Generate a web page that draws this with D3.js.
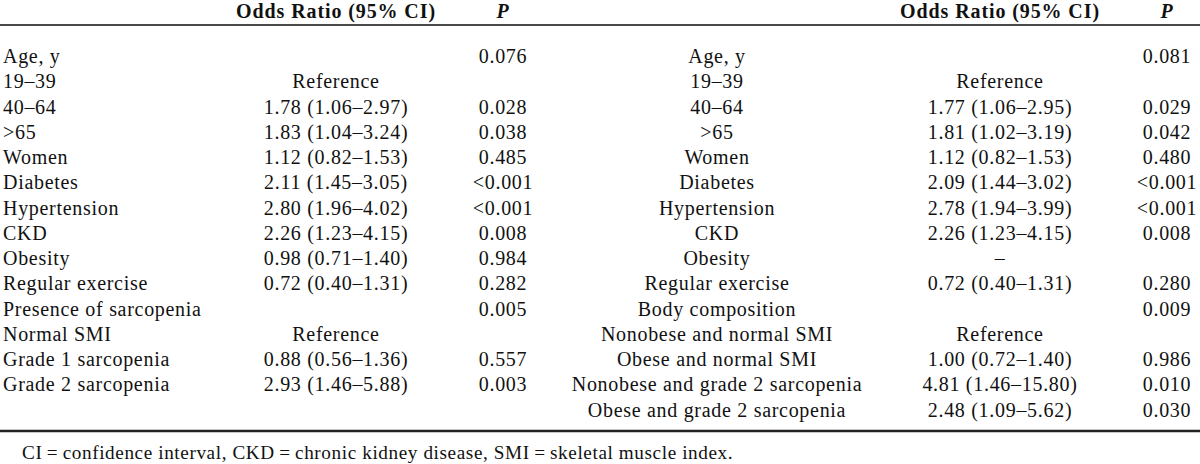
<!DOCTYPE html>
<html><head><meta charset="utf-8">
<script src="https://cdn.jsdelivr.net/npm/d3@7"></script>
<style>
html,body{margin:0;padding:0;background:#fff;}
svg{display:block;}
text{font-family:"Liberation Serif","Tinos","Times New Roman",serif;fill:#111;}
</style></head>
<body>
<svg id="t" width="1200" height="464"></svg>
<script>
const headers = ["", "Odds Ratio (95% CI)", "P"];
const leftLabels = ["Age, y","19\u201339","40\u201364",">65","Women","Diabetes","Hypertension","CKD","Obesity","Regular exercise","Presence of sarcopenia","Normal SMI","Grade 1 sarcopenia","Grade 2 sarcopenia"];
const leftOR = ["","Reference","1.78 (1.06\u20132.97)","1.83 (1.04\u20133.24)","1.12 (0.82\u20131.53)","2.11 (1.45\u20133.05)","2.80 (1.96\u20134.02)","2.26 (1.23\u20134.15)","0.98 (0.71\u20131.40)","0.72 (0.40\u20131.31)","","Reference","0.88 (0.56\u20131.36)","2.93 (1.46\u20135.88)"];
const leftP = ["0.076","","0.028","0.038","0.485","<0.001","<0.001","0.008","0.984","0.282","0.005","","0.557","0.003"];
const rightLabels = ["Age, y","19\u201339","40\u201364",">65","Women","Diabetes","Hypertension","CKD","Obesity","Regular exercise","Body composition","Nonobese and normal SMI","Obese and normal SMI","Nonobese and grade 2 sarcopenia","Obese and grade 2 sarcopenia"];
const rightOR = ["","Reference","1.77 (1.06\u20132.95)","1.81 (1.02\u20133.19)","1.12 (0.82\u20131.53)","2.09 (1.44\u20133.02)","2.78 (1.94\u20133.99)","2.26 (1.23\u20134.15)","\u2013","0.72 (0.40\u20131.31)","","Reference","1.00 (0.72\u20131.40)","4.81 (1.46\u201315.80)","2.48 (1.09\u20135.62)"];
const rightP = ["0.081","","0.029","0.042","0.480","<0.001","<0.001","0.008","","0.280","0.009","","0.986","0.010","0.030"];
const footnote = "CI\u2009=\u2009confidence interval, CKD\u2009=\u2009chronic kidney disease, SMI\u2009=\u2009skeletal muscle index.";

const svg = d3.select("#t");
const W = 1200;
const nRows = rightLabels.length;
const y = d3.scaleLinear().domain([0, nRows - 1]).range([63, 63 + 25.25 * (nRows - 1)]);
const colX = d3.scaleOrdinal()
  .domain(["lLab","lOR","lP","rLab","rOR","rP"])
  .range([3, 336, 503, 717, 1000, 1167]);
const colAnchor = {lLab:"start", lOR:"middle", lP:"middle", rLab:"middle", rOR:"middle", rP:"middle"};

const fs = 20, ls = 0.7;

// header
const hdr = [
  {c:"lOR", t:headers[1], it:false},{c:"lP", t:headers[2], it:true},
  {c:"rOR", t:headers[1], it:false},{c:"rP", t:headers[2], it:true}
];
svg.selectAll("text.h").data(hdr).join("text").attr("class","h")
  .attr("x", d => colX(d.c)).attr("y", 18)
  .attr("text-anchor","middle")
  .style("font-size", "20px").style("font-weight","bold")
  .style("font-style", d => d.it ? "italic" : "normal")
  .style("letter-spacing", "0.9px")
  .text(d => d.t);

svg.append("line").attr("x1",0).attr("x2",W).attr("y1",25).attr("y2",25)
  .attr("stroke","#4a4a4a").attr("stroke-width",2);

function cells(labels, ors, ps, side){
  const out = [];
  labels.forEach((l,i)=>{
    out.push({c:side+"Lab", t:l, i});
    out.push({c:side+"OR", t:ors[i], i});
    out.push({c:side+"P", t:ps[i], i});
  });
  return out.filter(d => d.t !== "");
}
const all = cells(leftLabels,leftOR,leftP,"l").concat(cells(rightLabels,rightOR,rightP,"r"));
svg.selectAll("text.c").data(all).join("text").attr("class","c")
  .attr("x", d => colX(d.c)).attr("y", d => y(d.i))
  .attr("text-anchor", d => colAnchor[d.c])
  .style("font-size", fs + "px")
  .style("letter-spacing", ls + "px")
  .text(d => d.t);

svg.append("line").attr("x1",0).attr("x2",W).attr("y1",431).attr("y2",431)
  .attr("stroke","#222").attr("stroke-width",2.5);

svg.append("text").attr("x",22).attr("y",459)
  .style("font-size","19.2px").style("letter-spacing","0.6px")
  .text(footnote);
</script>
</body></html>
